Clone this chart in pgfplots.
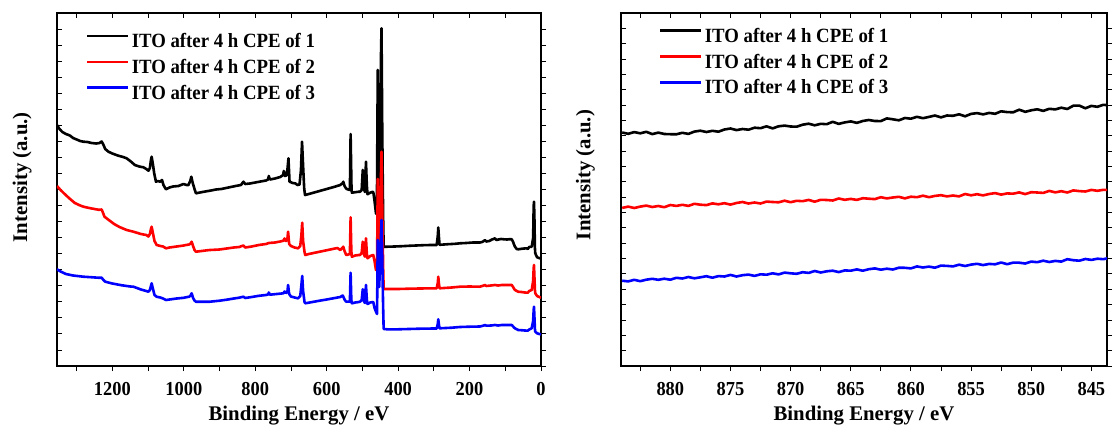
\documentclass[border=0pt]{standalone}
\usepackage{pgfplots}
\pgfplotsset{compat=1.18}
\usepackage{fontspec}
\setmainfont{Liberation Serif}
% slightly narrowed face for tick numbers and legend entries
\newfontfamily\narrowserif{Liberation Serif}[FakeStretch=0.93]

\pgfplotsset{
  xps/.style={
    scale only axis,
    anchor=south west,
    height=353pt,
    ymin=0, ymax=353,
    x dir=reverse,
    axis line style={line width=1.1pt},
    tick align=center,
    major tick length=5pt,
    every tick/.style={black, line width=0.9pt},
    x tick style={yshift=-2.5pt},
    y tick style={xshift=2.5pt},
    yticklabels={},
    /pgf/number format/assume math mode=true,
    tick label style={font=\fontsize{19.8}{23}\narrowserif\bfseries},
    xticklabel style={anchor=base, yshift=-27pt},
    label style={font=\fontsize{20.8}{24}\selectfont\bfseries},
    xlabel={Binding Energy / eV},
    ylabel={Intensity (a.u.)},
    xlabel style={at={(axis description cs:0.5,-0.153)}, anchor=base},
    legend cell align=left,
    legend image code/.code={\draw[#1, line width=2.6pt] (0pt,6.5pt) -- (41pt,6.5pt);},
    legend style={draw=none, fill=none, inner sep=0pt,
      row sep=3.8pt, column sep=0.4pt,
      font=\fontsize{20.2}{23}\narrowserif\bfseries,
      nodes={inner sep=2pt, text height=14pt, text depth=4pt}},
    every axis plot/.append style={line width=2.6pt, line join=round},
  }
}

\begin{document}
\begin{tikzpicture}
\useasboundingbox (0pt,0pt) rectangle (1113pt,432pt);

% ---- survey spectra ----
\begin{axis}[xps,
  at={(57pt,66pt)}, width=484pt,
  xmin=0, xmax=1355,
  xtick={0,100,...,1300},
  xticklabels={0,,200,,400,,600,,800,,1000,,1200,},
  ytick={0,16.05,...,353},
  ylabel style={at={(axis description cs:-0.072,0.535)}, anchor=center},
  legend style={at={(axis description cs:0.059,0.948)}, anchor=north west},
]
\addplot[black] coordinates {
(1355,241) (1348,237) (1340,234) (1330,232) (1319,230.5) (1310,228) (1300,226.5)
(1290,225) (1281,224.3) (1270,224) (1258,223) (1245,222.5) (1236,223) (1230,224.5)
(1226,222) (1220,217) (1211,214.3) (1200,212.5) (1185,210.5) (1170,209) (1160,207.7)
(1150,205) (1137,201) (1125,199.5) (1113,198.7) (1105,197) (1099,195.3) (1095,198)
(1092,206) (1090,209.3) (1087,203) (1083,193) (1078,184.3) (1072,185) (1066.6,184.3)
(1061,186) (1057,181) (1050,176.7) (1040,178.5) (1030,179.5) (1015,180) (1001,182)
(992,181) (987,181) (982,185) (979,189.3) (975,183) (970,177) (966,172.7) (955,173.5)
(940,174.5) (927,175.3) (910,176.5) (895,177) (875,178.5) (855,180) (840,181)
(833,184.3) (828,182) (815,182.5) (800,183.5) (785,184.5) (770,185.5) (764,186.5)
(762,190) (759,186.5) (745,187.5) (730,189) (722,191) (720,195) (717,190) (713,190.5)
(710,196) (707,207.7) (704,184.3) (695,183) (687,182.5) (682,181) (676,181.5)
(672,196) (669,224.3) (666,200) (663,178) (660.7,171) (655,171.5) (640,173) (620,175)
(600,177) (580,179) (562,181) (555,183) (553.5,184.3) (550,180) (546,177.7) (544,177)
(535,176) (533,232) (530.5,178) (529.5,173.3) (520,173.8) (510,174.3) (506.7,174.3)
(502,176) (499,196) (496,178) (493,174) (490,204.3) (487.5,180) (485.6,171.7)
(480,173) (473,174) (469.5,174) (466,165) (462,152.7) (459.5,152) (457,296) (455,230)
(453,179) (450,200) (448,310) (446.5,337.7) (444.5,240) (442,150) (440.5,119.3)
(430,119.3) (410,119.5) (390,119.8) (370,120.2) (350,120.5) (330,120.8) (310,121)
(292,121) (289,130) (287.5,138.5) (286,130) (284,121.2) (260,121.8) (240,122.2)
(226.8,122.7) (210,123) (190,123.5) (171,123.5) (165,124) (160,125) (157,126)
(153,124.5) (145,125) (137,126.5) (133,127) (129,127.7) (125,126) (119,126.5)
(112,127) (104,126.7) (95,126.5) (88,126.8) (82,126.7) (78,124) (75,121) (72.8,119.3)
(68,117) (63.5,116.7) (55,117.2) (47,117.5) (40,117.7) (37,117) (33,119) (26,119.3)
(22,128) (20.5,160) (19.6,164.3) (18.5,150) (17,118) (16,112.7) (11,108.7) (7,108.2)
(3,107.7) (0,107.5)
};
\addlegendentry{ITO after 4 h CPE of 1}
\addplot[red] coordinates {
(1355,180) (1345,176) (1335,172.5) (1320,167.5) (1305,163) (1290,160.5) (1281,159.3)
(1265,158) (1250,157) (1238,156.2) (1230,156.5) (1226,153) (1222,149.3) (1210,146)
(1195,142) (1180,139) (1160,136) (1141,134.3) (1120,132) (1105,131) (1099,129.5)
(1095,132) (1092,137) (1090,139.3) (1087,134) (1082,125) (1076,121) (1065,120)
(1058,119.5) (1050,117.7) (1040,118.5) (1020,119.5) (1000,120.5) (994,121) (985,121.5)
(981,122.5) (978,124.3) (974,120) (970,116) (966,114.3) (950,115) (935,115.7)
(927,116) (900,116.5) (880,117.5) (860,118.5) (845,119) (833,120.5) (828,118.5)
(810,119.5) (790,121) (770,122) (762,123) (745,123.5) (730,124.5) (721,125.3)
(718,127.5) (714,125) (710,127) (708,134.3) (705,122) (700,120) (690,118.5)
(680,117.7) (674,120) (671,130) (668.5,143.3) (666,125) (662,114) (660,111) (650,112)
(630,113.5) (610,115) (590,116.5) (570,118) (562,116) (555,118.5) (553.5,119.3)
(550,115) (546,111.5) (544,111) (535,112) (533,148.7) (531,115) (529.5,109.3)
(520,110.5) (510,111) (506.7,111) (502,113) (499,124.3) (496,112) (493,109.3)
(490,127.7) (487.5,112) (485.6,107.7) (478,110) (469.5,111) (466,105) (462,96)
(459,97) (457,187) (455,150) (453,115) (450,150) (448,190) (446.5,214.3) (444.5,160)
(442,100) (440.5,77) (430,77) (400,77) (370,77.3) (340,77.5) (300,77.7) (292,77.7)
(289,83) (287.5,89.3) (286,83) (284,77.7) (250,78.5) (226.8,79.3) (200,79.5)
(171,79.3) (160,80.5) (157,81) (153,80) (140,80.5) (129,81) (120,80.5) (110,81)
(100,81) (90,81) (82,81) (78,79) (75,77) (72.8,76) (64,74.3) (55,74) (45,73.5)
(37,73.3) (33,75) (26,76) (22,85) (20.5,98) (19.6,101) (18.5,90) (17,76) (16,72.7)
(11,70) (5,69) (0,68.3)
};
\addlegendentry{ITO after 4 h CPE of 2}
\addplot[blue] coordinates {
(1355,96.7) (1345,94.5) (1330,92) (1310,90.5) (1281,89.3) (1260,88.8) (1240,88.3)
(1230,88.3) (1226,86.5) (1220,84.3) (1200,82.5) (1175,80.8) (1150,79.5) (1141,79.3)
(1120,76.5) (1105,75) (1099,74.3) (1095,76) (1092,80) (1090,82.7) (1087,78) (1082,71)
(1076,69.3) (1066,68.5) (1058,67.5) (1050,66) (1040,66.5) (1020,67.5) (1000,68.2)
(994,68.7) (985,69.3) (981,70.5) (978,72.7) (974,68) (970,65.5) (966,64.3) (950,64.3)
(927,64.3) (900,65.3) (880,66.3) (860,67.5) (845,68.3) (833,69.3) (828,68) (810,69)
(790,70.2) (770,71) (764,71.5) (762,73.5) (759,71.3) (740,72) (721,72.7) (718,74.5)
(714,73) (710,74) (708,81) (705,72) (700,69.5) (690,68.5) (680,67.7) (674,70)
(671,80) (668.5,90) (666,75) (662,64) (660,62.7) (640,64) (620,65.3) (600,66.5)
(580,67.8) (562,69) (555,70.5) (553.5,69.3) (550,66.5) (546,64.5) (544,64.3)
(535,64.5) (533,93.3) (531,66) (529.5,62.7) (520,63.5) (510,64) (506.7,64.3) (502,66)
(499,76.7) (496,65) (493,63) (490,81) (487.5,66) (485.6,62) (478,63.5) (469.5,64)
(466,58) (462,54.3) (459,52) (457,126) (455,100) (453,79) (450,105) (448,130)
(446.5,146) (444.5,110) (442,60) (440.5,37) (430,36.7) (400,36.7) (370,37) (340,37.3)
(300,37.5) (292,37.5) (289,42) (287.5,46.7) (286,42) (284,37.7) (250,38.3)
(226.8,39) (200,39.3) (171,39.5) (160,40.5) (157,41) (153,40.3) (140,40.5) (129,41)
(120,40.5) (110,41) (100,41) (90,41) (82,41) (78,39.5) (75,38.3) (72.8,37.7) (64,36)
(55,35.8) (45,35.5) (37,35.3) (33,36.5) (26,37.7) (22,45) (20.5,56) (19.6,59.3)
(18.5,50) (17,37) (16,34.3) (11,32.7) (5,32) (0,31.7)
};
\addlegendentry{ITO after 4 h CPE of 3}
\end{axis}

% ---- Ni 2p region ----
\begin{axis}[xps,
  at={(621pt,66pt)}, width=486pt,
  xmin=843.7, xmax=884.1,
  xtick={845,847.5,...,882.5},
  xticklabels={845,,850,,855,,860,,865,,870,,875,,880,},
  ytick={0,15.35,...,353},
  ylabel style={at={(axis description cs:-0.073,0.541)}, anchor=center},
  legend style={at={(axis description cs:0.0776,0.963)}, anchor=north west},
]
\addplot[black] coordinates {
(884,233.5) (883.5,232.2) (883,233.9) (882.5,232.7) (882,234.2) (881.5,231.9)
(881,233.4) (880.5,232.0) (880,231.8) (879.5,231.7) (879,233.2) (878.5,232.1)
(878,234.4) (877.5,235.3) (877,234.0) (876.5,235.2) (876,234.3) (875.5,236.5)
(875,237.5) (874.5,235.9) (874,237.0) (873.5,236.3) (873,238.3) (872.5,237.8)
(872,239.7) (871.5,237.6) (871,239.7) (870.5,240.4) (870,239.5) (869.5,239.3)
(869,241.3) (868.5,242.3) (868,240.7) (867.5,242.2) (867,241.8) (866.5,244.2)
(866,242.1) (865.5,243.6) (865,244.6) (864.5,243.1) (864,245.0) (863.5,246.0)
(863,245.0) (862.5,244.9) (862,247.6) (861.5,246.7) (861,245.7) (860.5,248.0)
(860,247.3) (859.5,249.2) (859,247.8) (858.5,249.1) (858,250.5) (857.5,248.6)
(857,250.5) (856.5,250.2) (856,251.7) (855.5,249.7) (855,252.1) (854.5,252.9)
(854,251.6) (853.5,253.1) (853,252.2) (852.5,254.7) (852,253.9) (851.5,253.7)
(851,256.3) (850.5,254.2) (850,255.7) (849.5,256.7) (849,255.1) (848.5,257.2)
(848,256.6) (847.5,258.3) (847,257.0) (846.5,260.3) (846,260.4) (845.5,257.7)
(845,260.1) (844.5,259.2) (844,261.2) (843.5,260.6)
};
\addlegendentry{ITO after 4 h CPE of 1}
\addplot[red] coordinates {
(884,158.1) (883.5,159.4) (883,158.0) (882.5,159.4) (882,160.4) (881.5,159.0)
(881,160.0) (880.5,158.8) (880,161.0) (879.5,160.1) (879,161.2) (878.5,160.1)
(878,162.2) (877.5,161.3) (877,160.9) (876.5,162.6) (876,161.7) (875.5,162.8)
(875,161.4) (874.5,163.0) (874,164.0) (873.5,162.5) (873,163.5) (872.5,162.5)
(872,164.4) (871.5,164.0) (871,163.7) (870.5,165.3) (870,163.8) (869.5,165.2)
(869,164.8) (868.5,166.1) (868,164.3) (867.5,166.2) (867,166.0) (866.5,165.5)
(866,167.5) (865.5,166.2) (865,167.1) (864.5,166.1) (864,167.8) (863.5,167.3)
(863,166.9) (862.5,168.8) (862,167.6) (861.5,168.5) (861,169.2) (860.5,167.6)
(860,169.3) (859.5,168.8) (859,170.3) (858.5,168.8) (858,170.1) (857.5,170.8)
(857,169.6) (856.5,170.5) (856,169.6) (855.5,172.0) (855,170.7) (854.5,171.8)
(854,170.6) (853.5,172.0) (853,172.9) (852.5,171.4) (852,172.6) (851.5,172.3)
(851,173.6) (850.5,171.9) (850,173.8) (849.5,173.5) (849,173.1) (848.5,175.1)
(848,173.6) (847.5,174.8) (847,173.5) (846.5,175.6) (846,174.9) (845.5,174.5)
(845,176.1) (844.5,175.2) (844,176.2) (843.5,176.1)
};
\addlegendentry{ITO after 4 h CPE of 2}
\addplot[blue] coordinates {
(884,85.3) (883.5,84.6) (883,86.2) (882.5,84.8) (882,86.3) (881.5,87.2) (881,86.2)
(880.5,87.3) (880,86.3) (879.5,88.2) (879,87.5) (878.5,89.0) (878,87.7) (877.5,88.7)
(877,89.8) (876.5,88.3) (876,89.9) (875.5,89.5) (875,91.1) (874.5,89.5) (874,90.8)
(873.5,91.4) (873,90.1) (872.5,91.7) (872,91.3) (871.5,92.7) (871,91.6) (870.5,93.4)
(870,92.7) (869.5,92.2) (869,93.8) (868.5,93.1) (868,95.0) (867.5,93.5) (867,94.7)
(866.5,95.3) (866,93.9) (865.5,95.6) (865,95.3) (864.5,96.6) (864,95.3) (863.5,96.8)
(863,97.6) (862.5,96.3) (862,97.3) (861.5,96.5) (861,98.3) (860.5,98.2) (860,97.6)
(859.5,99.6) (859,98.5) (858.5,99.4) (858,98.3) (857.5,100.4) (857,100.1)
(856.5,99.6) (856,101.3) (855.5,100.0) (855,101.4) (854.5,102.2) (854,100.9)
(853.5,102.1) (853,101.7) (852.5,103.5) (852,101.8) (851.5,103.4) (851,103.3)
(850.5,102.5) (850,104.4) (849.5,103.8) (849,105.3) (848.5,104.0) (848,105.1)
(847.5,104.4) (847,106.8) (846.5,105.8) (846,105.3) (845.5,107.0) (845,106.1)
(844.5,107.3) (844,106.8) (843.5,108.2)
};
\addlegendentry{ITO after 4 h CPE of 3}
\end{axis}
\end{tikzpicture}
\end{document}
